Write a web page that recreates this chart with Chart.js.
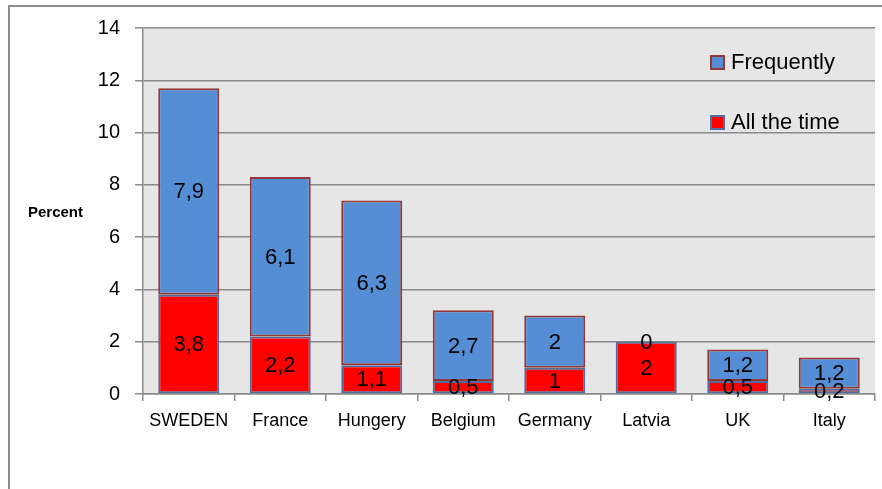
<!DOCTYPE html>
<html>
<head>
<meta charset="utf-8">
<script src="https://cdn.jsdelivr.net/npm/chart.js@4/dist/chart.umd.min.js"></script>
<style>
  html, body { margin: 0; padding: 0; background: #fff; }
  #wrap { width: 882px; height: 489px; position: relative; }
</style>
</head>
<body>
<div id="wrap"><canvas id="chart" width="882" height="489"></canvas></div>
<script>
// Data
const countries = ['SWEDEN', 'France', 'Hungery', 'Belgium', 'Germany', 'Latvia', 'UK', 'Italy'];
const allTheTime = [3.8, 2.2, 1.1, 0.5, 1, 2, 0.5, 0.2];
const frequently = [7.9, 6.1, 6.3, 2.7, 2, 0, 1.2, 1.2];
const yTicks = [0, 2, 4, 6, 8, 10, 12, 14];

const FONT = '"Liberation Sans", Arial, sans-serif';
const GRID = '#8a8a8a';

// --- PLUGINS ---

// gray plot background + outer frame + "Percent"
const backdrop = {
    id: 'backdrop',
    beforeDraw(chart) {
        const { ctx, chartArea: a } = chart;
        ctx.save();
        ctx.fillStyle = '#e6e6e6';
        ctx.fillRect(a.left, a.top, a.right - a.left, a.bottom - a.top);
        ctx.strokeStyle = '#8c8c8c';
        ctx.lineWidth = 2;
        ctx.strokeRect(9, 6, 900, 500);
        ctx.fillStyle = '#000';
        ctx.font = 'bold 15px ' + FONT;
        ctx.textBaseline = 'middle';
        ctx.fillText('Percent', 28, 213);
        ctx.restore();
    }
};

// value labels in the middle of each segment
const segLabels = {
    id: 'segLabels',
    afterDatasetsDraw(chart) {
        const { ctx } = chart;
        ctx.save();
        ctx.fillStyle = '#000';
        ctx.font = '22px ' + FONT;
        ctx.textAlign = 'center';
        ctx.textBaseline = 'middle';
        chart.data.datasets.forEach((ds, i) => {
            chart.getDatasetMeta(i).data.forEach((bar, j) => {
                const txt = String(ds.data[j]).replace('.', ',');
                ctx.fillText(txt, bar.x, (bar.y + bar.base) / 2 + 1);
            });
        });
        ctx.restore();
    }
};

// legend inside the plot, top right
const legendBox = {
    id: 'legendBox',
    afterDraw(chart) {
        const { ctx } = chart;
        const order = [1, 0]; // Frequently first
        ctx.save();
        ctx.font = '22px ' + FONT;
        ctx.textBaseline = 'middle';
        order.forEach((idx, k) => {
            const ds = chart.data.datasets[idx];
            const y = 63 + k * 60;
            ctx.fillStyle = ds.backgroundColor;
            ctx.fillRect(711, y - 7, 13, 13);
            ctx.strokeStyle = ds.borderColor;
            ctx.lineWidth = 2;
            ctx.strokeRect(711, y - 7, 13, 13);
            ctx.fillStyle = '#000';
            ctx.fillText(ds.label, 731, y);
        });
        ctx.restore();
    }
};

// Chart Setup
const ctx = document.getElementById('chart').getContext('2d');
const chart = new Chart(ctx, {
    type: 'bar',
    data: {
        labels: countries,
        datasets: [
            { label: 'All the time', data: allTheTime, backgroundColor: '#ff0000', borderColor: '#4f6fa0', borderWidth: 2, borderSkipped: false },
            { label: 'Frequently', data: frequently, backgroundColor: '#558ed5', borderColor: '#953735', borderWidth: 2, borderSkipped: false }
        ]
    },
    options: {
        responsive: false,
        animation: false,
        layout: { padding: { top: 28, right: 7, left: 0, bottom: 0 } },
        categoryPercentage: 1,
        barPercentage: 0.667,
        plugins: { legend: { display: false }, tooltip: { enabled: false } },
        scales: {
            x: {
                stacked: true,
                grid: { drawOnChartArea: false, offset: true, tickLength: 7, color: GRID, lineWidth: 1.5 },
                border: { color: GRID, width: 1.5 },
                ticks: { color: '#000', font: { family: FONT, size: 18 }, padding: 9 },
                afterFit(s) { s.height = 95; }
            },
            y: {
                stacked: true,
                min: 0, max: 14,
                afterBuildTicks(s) { s.ticks = yTicks.map(v => ({ value: v })); },
                grid: { color: GRID, lineWidth: 1.5, tickLength: 8 },
                border: { color: GRID, width: 1.5 },
                ticks: { color: '#000', font: { family: FONT, size: 20 }, padding: 15 },
                afterFit(s) { s.width = 143; }
            }
        }
    },
    plugins: [backdrop, segLabels, legendBox]
});
</script>
</body>
</html>
